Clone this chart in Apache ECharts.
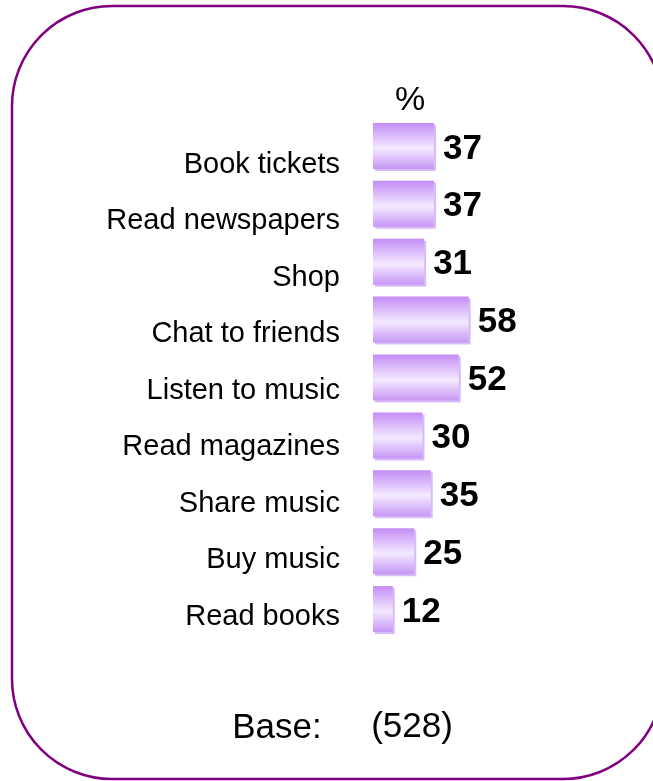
<!DOCTYPE html>
<html>
<head>
<meta charset="utf-8">
<style>html,body{margin:0;padding:0;background:#fff;}#c{width:653px;height:781px;}</style>
<script src="https://cdn.jsdelivr.net/npm/echarts@6/dist/echarts.min.js"></script>
</head>
<body>
<div id="c"></div>
<script>
var categories = ['Book tickets','Read newspapers','Shop','Chat to friends','Listen to music','Read magazines','Share music','Buy music','Read books'];
var values = [37,37,31,58,52,30,35,25,12];
var unitLabel = '%';
var baseLabel = 'Base:';
var baseValue = '(528)';

var chart = echarts.init(document.getElementById('c'), null, {renderer:'canvas'});
var FONT = '"Liberation Sans", Arial, sans-serif';
var barColor = new echarts.graphic.LinearGradient(0,0,0,1,[
  {offset:0,color:'#c48cf6'},
  {offset:0.55,color:'#f3eaff'},
  {offset:1,color:'#c896f6'}
]);
chart.setOption({
  animation:false,
  backgroundColor:'#fff',
  grid:[
    {left:373, top:117, width:165, height:521},
    {left:373, top:136.5, width:165, height:508.5}
  ],
  xAxis:[
    {gridIndex:0, type:'value', min:0, max:100, show:false},
    {gridIndex:1, type:'value', min:0, max:100, show:false}
  ],
  yAxis:[
    {gridIndex:0, type:'category', data:categories, inverse:true, show:false},
    {gridIndex:1, type:'category', data:categories, inverse:true,
     axisLine:{show:false}, axisTick:{show:false}, splitLine:{show:false},
     axisLabel:{margin:33, color:'#000', fontSize:29, fontFamily:FONT}}
  ],
  series:[{
    type:'bar', xAxisIndex:0, yAxisIndex:0, data:values, barWidth:46,
    itemStyle:{color:barColor, shadowColor:'#d8bcf8', shadowOffsetX:2, shadowOffsetY:2, shadowBlur:0},
    label:{show:true, position:'right', distance:9, color:'#000', fontSize:35, fontWeight:'bold', fontFamily:FONT, offset:[0,3]}
  }],
  graphic:[
    {type:'rect', shape:{x:12, y:6, width:651, height:773, r:100}, style:{fill:'none', stroke:'#800080', lineWidth:2.5}},
    {type:'text', x:410, y:101, style:{text:unitLabel, fontSize:34, fontFamily:FONT, fill:'#000', align:'center', verticalAlign:'middle'}},
    {type:'text', x:277, y:728, style:{text:baseLabel, fontSize:35, fontFamily:FONT, fill:'#000', align:'center', verticalAlign:'middle'}},
    {type:'text', x:412, y:727, style:{text:baseValue, fontSize:35, fontFamily:FONT, fill:'#000', align:'center', verticalAlign:'middle'}}
  ]
});
</script>
</body>
</html>
